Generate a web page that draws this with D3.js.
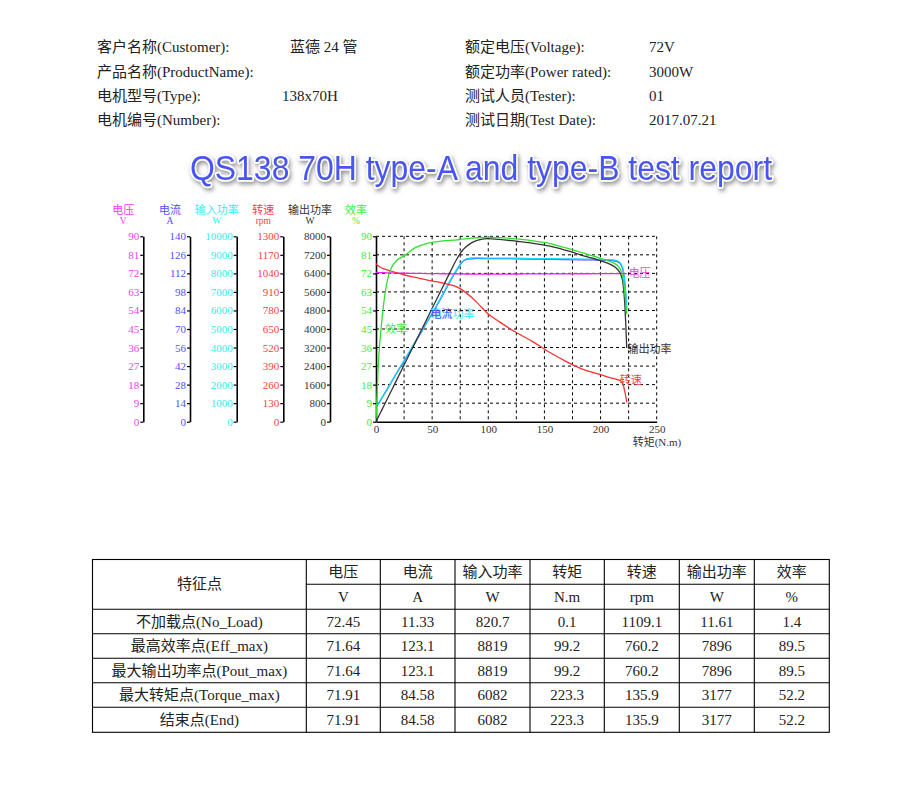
<!DOCTYPE html>
<html><head><meta charset="utf-8">
<script src="https://cdn.jsdelivr.net/npm/d3@7"></script>
<style>body{margin:0;background:#fff}svg{display:block}</style>
</head><body>
<svg id="c" width="901" height="785"></svg>
<script>
// ---------- data ----------
const torque   = [0.1, 1, 2, 3.5, 5, 8, 12, 18, 25, 35, 45, 55, 65, 72, 76, 80, 85, 90, 99.2, 110, 125, 140, 155, 170, 185, 200, 210, 215, 218, 220, 221.5, 222.5, 223.3];
const voltage  = [72.45,72.43,72.41,72.38,72.35,72.3,72.25,72.18,72.1,72.0,71.92,71.85,71.79,71.75,71.72,71.7,71.68,71.66,71.64,71.66,71.7,71.73,71.77,71.8,71.83,71.86,71.88,71.89,71.9,71.9,71.91,71.91,71.91];
const current  = [11.33,12.3,13.3,15.3,17.5,21.8,27.4,36,45.8,60,74.5,88.9,104.5,114.6,119.8,122.3,123.0,123.3,123.1,123.2,123.0,122.8,122.6,122.4,122.2,122.0,121.6,120.8,118.8,114.5,105.5,95,84.58];
const inputPow = [820.7,890,965,1110,1265,1575,1980,2600,3300,4320,5355,6390,7500,8220,8590,8770,8830,8840,8819,8825,8815,8800,8790,8780,8770,8760,8735,8680,8530,8230,7580,6830,6082];
const speed    = [1109.1,1100,1093,1085,1078,1070,1060,1045,1030,1012,995,980,962,945,928,905,872,835,760.2,700,625,560,485,420,365,330,305,295,285,262,215,175,135.9];
const outPow   = [11.61,98,196,342,489,782,1173,1760,2444,3422,4400,5378,6356,7022,7333,7538,7716,7822,7896,7867,7787,7698,7573,7378,7156,6951,6756,6578,6356,5956,5156,4178,3177];
const effic    = [1.4,14,27,39,48,62,72.5,78,80.5,84.5,86.5,87.4,88,88.3,88.6,88.8,89.1,89.3,89.5,89.4,88.7,87.8,86.5,84.2,81.8,79.3,77.4,75.8,73.5,69.5,63,57,52.2];

const torqueTicks = [0,50,100,150,200,250];
const voltTicks = [0,9,18,27,36,45,54,63,72,81,90];
const currTicks = [0,14,28,42,56,70,84,98,112,126,140];
const inTicks   = [0,1000,2000,3000,4000,5000,6000,7000,8000,9000,10000];
const rpmTicks  = [0,130,260,390,520,650,780,910,1040,1170,1300];
const outTicks  = [0,800,1600,2400,3200,4000,4800,5600,6400,7200,8000];
const effTicks  = [0,9,18,27,36,45,54,63,72,81,90];

const infoLeftLabels  = ["客户名称(Customer):","产品名称(ProductName):","电机型号(Type):","电机编号(Number):"];
const infoLeftValues  = ["蓝德 24 管","","138x70H",""];
const infoRightLabels = ["额定电压(Voltage):","额定功率(Power rated):","测试人员(Tester):","测试日期(Test Date):"];
const infoRightValues = ["72V","3000W","01","2017.07.21"];
const titleText = "QS138 70H type-A and type-B test report";

const colNames  = ["电压","电流","输入功率","转矩","转速","输出功率","效率"];
const colUnits  = ["V","A","W","N.m","rpm","W","%"];
const pointNames = ["不加载点(No_Load)","最高效率点(Eff_max)","最大输出功率点(Pout_max)","最大转矩点(Torque_max)","结束点(End)"];
const pointValues = [
  ["72.45","11.33","820.7","0.1","1109.1","11.61","1.4"],
  ["71.64","123.1","8819","99.2","760.2","7896","89.5"],
  ["71.64","123.1","8819","99.2","760.2","7896","89.5"],
  ["71.91","84.58","6082","223.3","135.9","3177","52.2"],
  ["71.91","84.58","6082","223.3","135.9","3177","52.2"]
];

// ---------- drawing ----------
const svg = d3.select("#c");
const FONT = "'Liberation Serif','Noto Sans CJK SC',serif";
const TXT = "#222";

// info block
const rowY = [47, 71.5, 96, 120];
const info = svg.append("g").attr("font-family", FONT).attr("font-size", 15).attr("fill", TXT);
infoLeftLabels.forEach((t,i)=>info.append("text").attr("x",97).attr("y",rowY[i]).attr("dominant-baseline","central").text(t));
const leftValX = [290, 0, 282, 0];
infoLeftValues.forEach((t,i)=>{ if(t) info.append("text").attr("x",leftValX[i]).attr("y",rowY[i]).attr("dominant-baseline","central").text(t); });
infoRightLabels.forEach((t,i)=>info.append("text").attr("x",465).attr("y",rowY[i]).attr("dominant-baseline","central").text(t));
infoRightValues.forEach((t,i)=>info.append("text").attr("x",649).attr("y",rowY[i]).attr("dominant-baseline","central").text(t));

// title
const defs = svg.append("defs");
const f = defs.append("filter").attr("id","sh").attr("x","-10%").attr("y","-40%").attr("width","120%").attr("height","180%");
f.append("feDropShadow").attr("dx",1.5).attr("dy",2.5).attr("stdDeviation",2).attr("flood-color","#777").attr("flood-opacity",0.8);
svg.append("text").attr("x",190).attr("y",180)
  .attr("font-family","'Liberation Sans',Arial,sans-serif").attr("font-size",35)
  .attr("textLength",582).attr("lengthAdjust","spacingAndGlyphs")
  .attr("fill","#4a55f2").attr("stroke","#fff").attr("stroke-width",3.5)
  .attr("paint-order","stroke").attr("stroke-linejoin","round")
  .attr("filter","url(#sh)").text(titleText);

// chart scales
const X0 = 376, X1 = 656.7, YB = 421.7, YT = 236.3;
const x = d3.scaleLinear([0,250],[X0,X1]);
const yV   = d3.scaleLinear([0,90],[YB,YT]);
const yA   = d3.scaleLinear([0,140],[YB,YT]);
const yIn  = d3.scaleLinear([0,10000],[YB,YT]);
const yRpm = d3.scaleLinear([0,1300],[YB,YT]);
const yOut = d3.scaleLinear([0,8000],[YB,YT]);
const yEff = d3.scaleLinear([0,90],[YB,YT]);

const C = {v:"#f020f0", a:"#4848ff", in:"#18d8ff", rpm:"#ff3030", out:"#333333", eff:"#30e030"};
const axisCols = [
  {scale:yV, ticks:voltTicks, x:143.3, name:"电压", unit:"V", col:"#f040f0"},
  {scale:yA, ticks:currTicks, x:190, name:"电流", unit:"A", col:"#5050ff"},
  {scale:yIn, ticks:inTicks, x:236.7, name:"输入功率", unit:"W", col:"#30f0f0"},
  {scale:yRpm, ticks:rpmTicks, x:283.3, name:"转速", unit:"rpm", col:"#ff4040"},
  {scale:yOut, ticks:outTicks, x:330, name:"输出功率", unit:"W", col:"#333"},
  {scale:yEff, ticks:effTicks, x:376, name:"效率", unit:"%", col:"#40ee40"}
];

// grid
const grid = svg.append("g").attr("stroke","#000").attr("stroke-width",1).attr("stroke-dasharray","3,3");
d3.range(25,251,25).forEach(t=>grid.append("line").attr("x1",x(t)).attr("x2",x(t)).attr("y1",YT).attr("y2",YB));
effTicks.slice(1).forEach(v=>grid.append("line").attr("x1",X0).attr("x2",X1).attr("y1",yEff(v)).attr("y2",yEff(v)));

// left axes
axisCols.forEach(a=>{
  const g = svg.append("g").attr("transform",`translate(${a.x},0)`)
    .call(d3.axisLeft(a.scale).tickValues(a.ticks).tickSize(3).tickSizeOuter(0).tickPadding(1).tickFormat(d3.format("d")));
  g.select(".domain").attr("stroke","#000").attr("stroke-width",1.6);
  g.selectAll(".tick line").attr("stroke","#000").attr("stroke-width",1.2);
  g.selectAll(".tick text").attr("fill",a.col).attr("font-family",FONT).attr("font-size",11);
  svg.append("text").attr("x",a.x-20).attr("y",210).attr("text-anchor","middle").attr("dominant-baseline","central")
    .attr("font-family",FONT).attr("font-size",11).attr("fill",a.col).text(a.name);
  svg.append("text").attr("x",a.x-20).attr("y",221).attr("text-anchor","middle").attr("dominant-baseline","central")
    .attr("font-family",FONT).attr("font-size",9.5).attr("fill",a.col).text(a.unit);
});

// bottom axis
const gx = svg.append("g").attr("transform",`translate(0,${YB})`)
  .call(d3.axisBottom(x).tickValues(torqueTicks).tickSize(0).tickSizeOuter(0).tickPadding(4));
gx.select(".domain").attr("stroke","#000").attr("stroke-width",1.6);
gx.selectAll(".tick text").attr("fill","#333").attr("font-family",FONT).attr("font-size",11);
svg.append("text").attr("x",x(250)-24).attr("y",442).attr("dominant-baseline","central")
  .attr("font-family",FONT).attr("font-size",11).attr("fill","#333").text("转矩(N.m)");

// curves
const series = [
  {vals:current, scale:yA, col:C.a},
  {vals:inputPow, scale:yIn, col:C.in},
  {vals:voltage, scale:yV, col:C.v},
  {vals:speed, scale:yRpm, col:C.rpm},
  {vals:outPow, scale:yOut, col:C.out},
  {vals:effic, scale:yEff, col:C.eff}
];
const cg = svg.append("g").attr("fill","none").attr("stroke-width",1.3);
series.forEach(s=>{
  const line = d3.line().x((d,i)=>x(torque[i])).y(d=>s.scale(d)).curve(d3.curveMonotoneX);
  cg.append("path").attr("d",line(s.vals)).attr("stroke",s.col);
});

// curve labels
const lab = (t, yv, txt, col) => svg.append("text").attr("x",x(t)).attr("y",yv)
  .attr("dominant-baseline","central").attr("font-family",FONT).attr("font-size",11).attr("fill",col).text(txt);
lab(8, yEff(45), "效率", "#40ee40");
lab(48.5, yIn(5830), "输入功率", "#30f0f0");
lab(48.5, yA(81.7), "电流", "#5050ff");
lab(225, yV(72), "电压", "#f040f0");
lab(224, yOut(3156), "输出功率", "#333");
lab(217, yRpm(289), "转速", "#ff4040");

// table
const colX = [92.5, 306.3, 380.3, 455, 530, 604.3, 679.3, 754.3, 829.3];
const rowB = [559.5, 584.3, 609.3, 633.8, 658.3, 682.8, 707.3, 732.3];
const tb = svg.append("g");
const tl = tb.append("g").attr("stroke","#000").attr("stroke-width",1.1);
tl.append("rect").attr("x",colX[0]).attr("y",rowB[0]).attr("width",colX[8]-colX[0]).attr("height",rowB[7]-rowB[0]).attr("fill","none");
colX.slice(1,8).forEach(cx=>tl.append("line").attr("x1",cx).attr("x2",cx).attr("y1",rowB[0]).attr("y2",rowB[7]));
tl.append("line").attr("x1",colX[1]).attr("x2",colX[8]).attr("y1",rowB[1]).attr("y2",rowB[1]);
rowB.slice(2,7).forEach(ry=>tl.append("line").attr("x1",colX[0]).attr("x2",colX[8]).attr("y1",ry).attr("y2",ry));
const tt = tb.append("g").attr("font-family",FONT).attr("font-size",15).attr("fill",TXT).attr("text-anchor","middle").attr("dominant-baseline","central");
const cx = i => (colX[i]+colX[i+1])/2, cy = j => (rowB[j]+rowB[j+1])/2;
tt.append("text").attr("x",cx(0)).attr("y",(rowB[0]+rowB[2])/2).attr("dominant-baseline","central").text("特征点");
colNames.forEach((n,i)=>tt.append("text").attr("x",cx(i+1)).attr("y",cy(0)).attr("dominant-baseline","central").text(n));
colUnits.forEach((n,i)=>tt.append("text").attr("x",cx(i+1)).attr("y",cy(1)).attr("dominant-baseline","central").text(n));
pointNames.forEach((n,j)=>{
  tt.append("text").attr("x",cx(0)).attr("y",cy(j+2)).attr("dominant-baseline","central").text(n);
  pointValues[j].forEach((v,i)=>tt.append("text").attr("x",cx(i+1)).attr("y",cy(j+2)).attr("dominant-baseline","central").text(v));
});
</script>
</body></html>
